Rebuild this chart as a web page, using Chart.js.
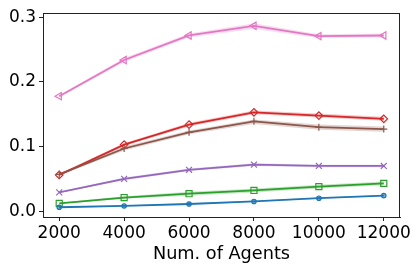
<!DOCTYPE html>
<html>
<head>
<meta charset="utf-8">
<script src="https://cdn.jsdelivr.net/npm/chart.js@4"></script>
<style>
html,body{margin:0;padding:0;background:#fff;}
#c{display:block;}
</style>
</head>
<body>
<canvas id="c" width="419" height="271"></canvas>
<script>
const agents = [2000, 4000, 6000, 8000, 10000, 12000];
const yTicks = [0.0, 0.1, 0.2, 0.3];
const xLabel = 'Num. of Agents';

const blue = [0.006, 0.008, 0.011, 0.015, 0.020, 0.024];
const blueLo = [0.005, 0.007, 0.010, 0.014, 0.019, 0.023];
const blueHi = [0.007, 0.009, 0.012, 0.016, 0.021, 0.025];

const green = [0.012, 0.021, 0.027, 0.032, 0.038, 0.043];
const greenLo = [0.011, 0.019, 0.024, 0.029, 0.035, 0.040];
const greenHi = [0.013, 0.023, 0.030, 0.035, 0.041, 0.046];

const purple = [0.029, 0.050, 0.064, 0.072, 0.070, 0.070];
const purpleLo = [0.028, 0.048, 0.062, 0.070, 0.068, 0.068];
const purpleHi = [0.030, 0.052, 0.066, 0.074, 0.072, 0.072];

const brown = [0.057, 0.097, 0.122, 0.139, 0.130, 0.127];
const brownLo = [0.055, 0.094, 0.119, 0.135, 0.126, 0.123];
const brownHi = [0.059, 0.100, 0.125, 0.142, 0.134, 0.131];

const red = [0.056, 0.103, 0.134, 0.153, 0.148, 0.143];
const redLo = [0.054, 0.101, 0.131, 0.150, 0.145, 0.140];
const redHi = [0.058, 0.105, 0.137, 0.156, 0.151, 0.146];

const pink = [0.178, 0.234, 0.272, 0.287, 0.271, 0.272];
const pinkLo = [0.176, 0.231, 0.269, 0.282, 0.268, 0.269];
const pinkHi = [0.180, 0.237, 0.275, 0.291, 0.274, 0.275];

function pts(arr){ return arr.map((v,i)=>({x:agents[i], y:v})); }
function rgba(hex,a){
  const n=parseInt(hex.slice(1),16);
  return `rgba(${(n>>16)&255},${(n>>8)&255},${n&255},${a})`;
}

const series = [
  {mean: blue, lo: blueLo, hi: blueHi, color:'#1f77b4', style:'circle', r:2.2, fill:true, rot:0},
  {mean: green, lo: greenLo, hi: greenHi, color:'#2ca02c', style:'rect', r:4.3, fill:false, rot:0},
  {mean: purple, lo: purpleLo, hi: purpleHi, color:'#9467bd', style:'crossRot', r:4.2, fill:false, rot:0},
  {mean: brown, lo: brownLo, hi: brownHi, color:'#8c564b', style:'cross', r:3.5, fill:false, rot:0},
  {mean: red, lo: redLo, hi: redHi, color:'#d62728', style:'rectRot', r:3.8, fill:false, rot:0},
  {mean: pink, lo: pinkLo, hi: pinkHi, color:'#e377c2', style:'triangle', r:4.2, fill:false, rot:-90}
];

const datasets = [];
series.forEach(s=>{
  datasets.push({data: pts(s.lo), borderWidth:0, pointRadius:0, fill:false, borderColor:'rgba(0,0,0,0)'});
  datasets.push({data: pts(s.hi), borderWidth:0, pointRadius:0, fill:'-1', borderColor:'rgba(0,0,0,0)', backgroundColor: rgba(s.color,0.25)});
});
series.forEach(s=>{
  datasets.push({
    data: pts(s.mean), borderColor: s.color, borderWidth: 1.8, fill:false,
    pointStyle: s.style, pointRadius: s.r, pointRotation: s.rot,
    pointBorderColor: s.color, pointBorderWidth: 1.2,
    pointBackgroundColor: s.fill ? rgba(s.color,0.6) : 'rgba(0,0,0,0)',
    tension: 0
  });
});

const frame = {
  id:'frame',
  afterDraw(chart){
    const a = chart.chartArea, ctx = chart.ctx;
    ctx.save();
    ctx.strokeStyle = '#222';
    ctx.lineWidth = 1;
    ctx.strokeRect(Math.round(a.left)+0.5, Math.round(a.top)+0.5, Math.round(a.right-a.left)-1, Math.round(a.bottom-a.top));
    ctx.restore();
  }
};

const font = {family:'DejaVu Sans', size:17};
const titleFont = {family:'DejaVu Sans', size:17.7};
new Chart(document.getElementById('c'), {
  type:'line',
  data:{datasets},
  options:{
    responsive:false, animation:false, devicePixelRatio:1,
    layout:{padding:{top:10, right:19, left:0, bottom:0}},
    plugins:{legend:{display:false}, tooltip:{enabled:false}},
    scales:{
      x:{
        type:'linear', min:1500, max:12500,
        afterBuildTicks(sc){ sc.ticks = agents.map(v=>({value:v})); },
        afterFit(sc){ sc.height = 54; },
        ticks:{font, color:'#000', padding:2, maxRotation:0, autoSkip:false, callback:v=>String(v)},
        grid:{drawOnChartArea:false, tickLength:4, color:'#222', tickWidth:1},
        border:{color:'#222', width:1},
        title:{display:true, text:xLabel, font:titleFont, color:'#000', padding:{top:0,bottom:6}}
      },
      y:{
        type:'linear', min:-0.0091, max:0.3065,
        afterBuildTicks(sc){ sc.ticks = yTicks.map(v=>({value:v})); },
        afterFit(sc){ sc.width = 43; },
        ticks:{font, color:'#000', padding:3, callback:v=>v.toFixed(1)},
        grid:{drawOnChartArea:false, tickLength:4, color:'#222', tickWidth:1},
        border:{color:'#222', width:1}
      }
    }
  },
  plugins:[frame]
});
</script>
</body>
</html>
